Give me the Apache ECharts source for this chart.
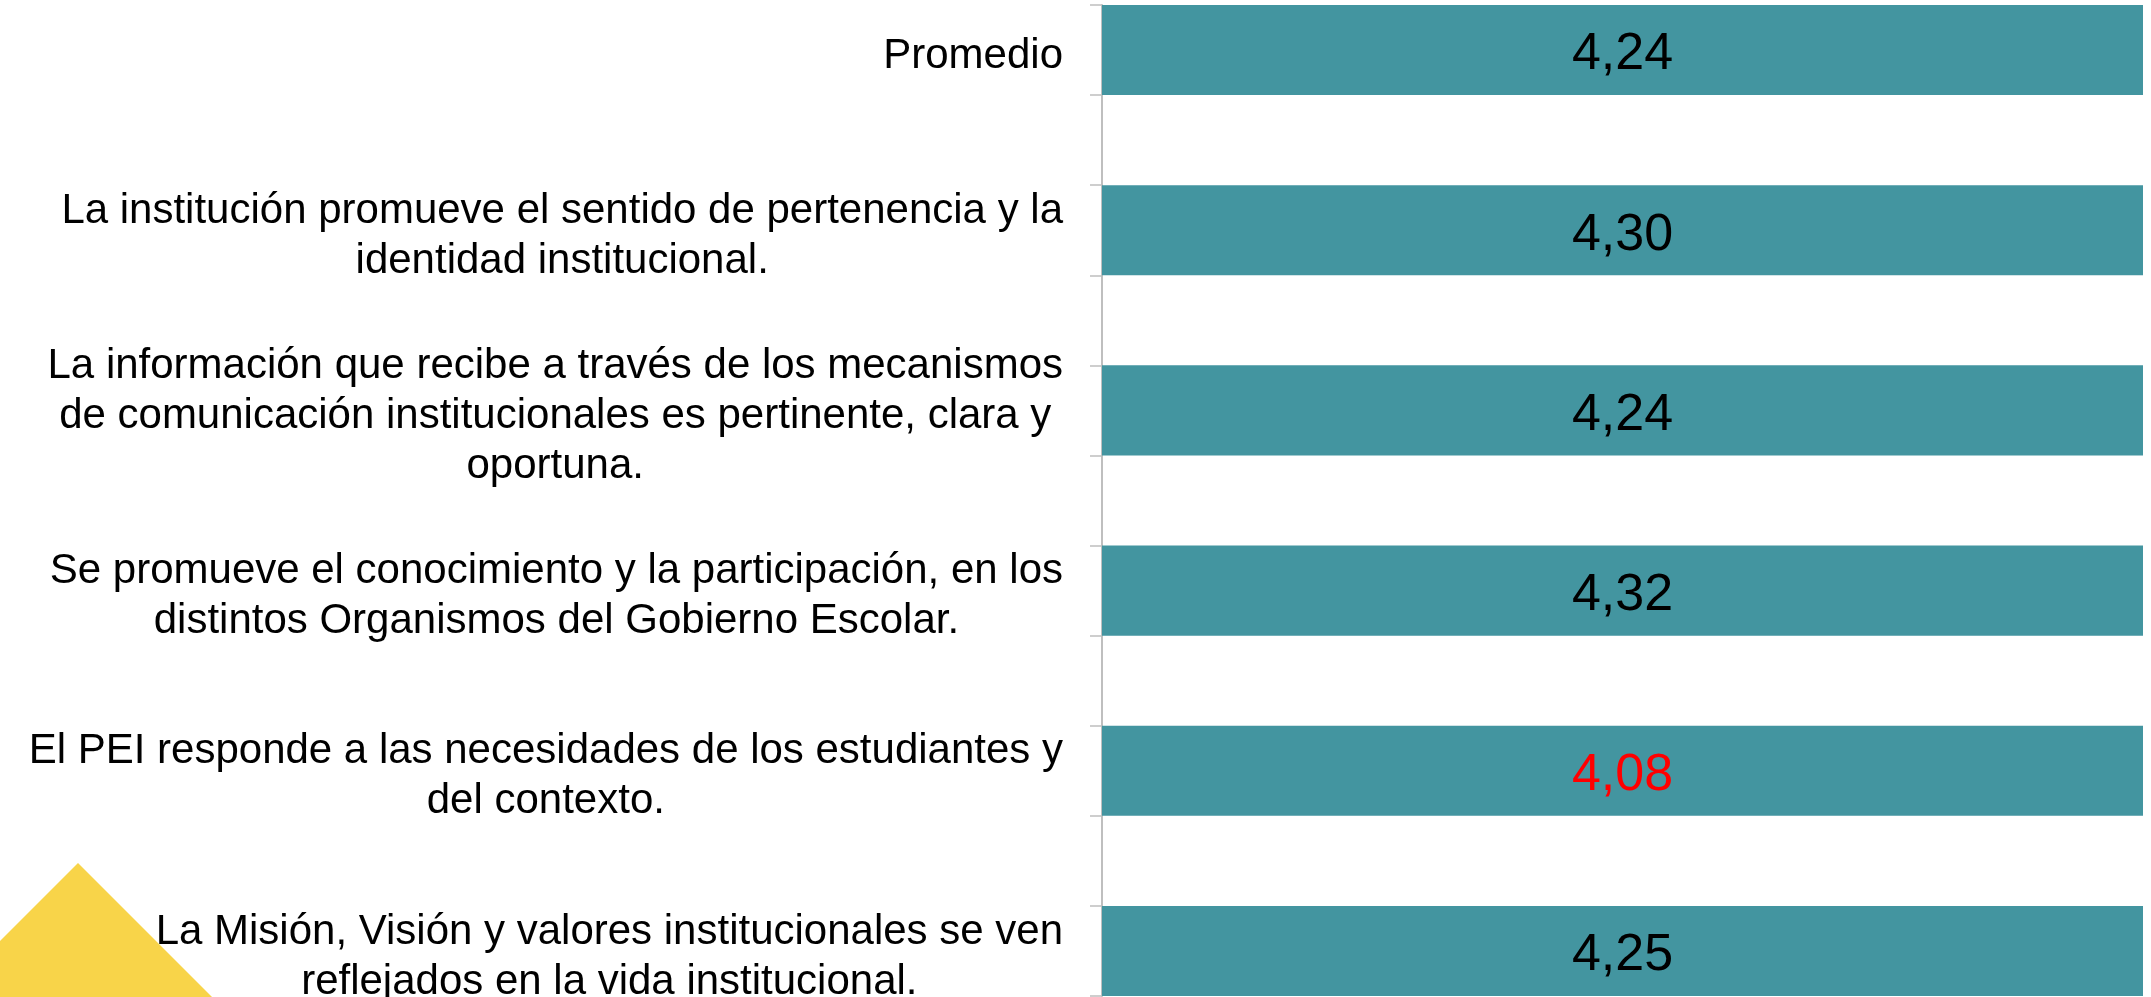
<!DOCTYPE html>
<html>
<head>
<meta charset="utf-8">
<script src="https://cdn.jsdelivr.net/npm/echarts@6/dist/echarts.min.js"></script>
<style>
    html, body { margin: 0; padding: 0; background: #fff; }
    #chart { width: 2151px; height: 997px; }
</style>
</head>
<body>
<div id="chart"></div>
<script>
// datos de la encuesta (de arriba hacia abajo)
var categories = [
    'Promedio',
    'La institución promueve el sentido de pertenencia y la\nidentidad institucional.',
    'La información que recibe a través de los mecanismos\nde comunicación institucionales es pertinente, clara y\noportuna.',
    'Se promueve el conocimiento y la participación, en los\ndistintos Organismos del Gobierno Escolar.',
    'El PEI responde a las necesidades de los estudiantes y\ndel contexto.',
    'La Misión, Visión y valores institucionales se ven\nreflejados en la vida institucional.'
];
var values = [4.24, 4.30, 4.24, 4.32, 4.08, 4.25];

var minVal = Math.min.apply(null, values);

// intercalar categorias vacias entre barras
var axisData = [];
var barData = [];
categories.forEach(function (c, i) {
    if (i > 0) {
        axisData.push('gap' + i);
        barData.push('-');
    }
    axisData.push(c);
    barData.push({
        value: values[i],
        label: { color: values[i] === minVal ? '#ff0000' : '#000000' }
    });
});

var font = "'Liberation Sans', Arial, sans-serif";
var dom = document.getElementById('chart');
var myChart = echarts.init(dom);
var option = {
    animation: false,
    backgroundColor: '#ffffff',
    graphic: [{
        type: 'polygon',
        z: -1,
        shape: { points: [[78, 863], [-120, 1061], [276, 1061]] },
        style: { fill: '#F8D449' }
    }],
    grid: {
        left: 1102,
        right: 8,
        top: 5,
        bottom: 1,
        containLabel: false,
        outerBoundsMode: 'none'
    },
    xAxis: {
        type: 'value',
        min: 0,
        max: 4,
        show: false
    },
    yAxis: {
        type: 'category',
        inverse: true,
        data: axisData,
        axisLine: { show: true, lineStyle: { color: '#BFBFBF', width: 2 } },
        axisTick: { show: true, interval: 0, length: 12, lineStyle: { color: '#BFBFBF', width: 1.5 } },
        axisLabel: {
            interval: 0,
            margin: 39,
            padding: [12, 0, 0, 0],
            fontSize: 42,
            fontFamily: font,
            color: '#000',
            formatter: function (v) {
                return v.indexOf('gap') === 0 ? '' : '{c|' + v + '}';
            },
            rich: {
                c: { align: 'center', fontSize: 42, lineHeight: 50, fontFamily: font, color: '#000' }
            }
        },
        splitLine: { show: false }
    },
    series: [{
        type: 'bar',
        barWidth: '100%',
        clip: true,
        data: barData,
        itemStyle: { color: '#4395A0' },
        label: {
            show: true,
            position: 'inside',
            offset: [0, 5],
            fontSize: 52,
            fontFamily: font,
            formatter: function (p) {
                return p.value.toFixed(2).replace('.', ',');
            }
        }
    }]
};
myChart.setOption(option, true);
</script>
</body>
</html>
